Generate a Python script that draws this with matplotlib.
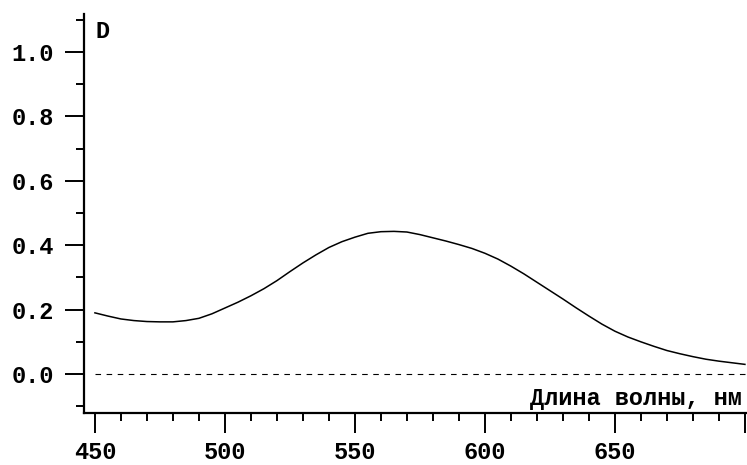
import matplotlib
matplotlib.use("Agg")
import matplotlib.pyplot as plt
from matplotlib.ticker import MultipleLocator

# spectrum, every 5 nm
wavelength = list(range(450, 701, 5))
absorbance = [0.190, 0.180, 0.171, 0.166, 0.163, 0.162, 0.162, 0.166, 0.173,
              0.187, 0.205, 0.223, 0.243, 0.265, 0.290, 0.318, 0.345, 0.370,
              0.393, 0.411, 0.425, 0.437, 0.442, 0.443, 0.441, 0.433, 0.423,
              0.413, 0.402, 0.390, 0.375, 0.357, 0.335, 0.311, 0.285, 0.259,
              0.233, 0.206, 0.180, 0.155, 0.133, 0.115, 0.100, 0.086, 0.073,
              0.063, 0.054, 0.046, 0.040, 0.035, 0.030]

x_ticks = [450, 500, 550, 600, 650, 700]
x_tick_labels = ["450", "500", "550", "600", "650", ""]
y_ticks = [0.0, 0.2, 0.4, 0.6, 0.8, 1.0]
y_label = "D"
x_label = "Длина волны, нм"

font = {"family": "Liberation Mono", "weight": "bold", "size": 17}

W, H = 747, 465
fig = plt.figure(figsize=(W / 100, H / 100), dpi=100)
ax = fig.add_axes([84 / W, (H - 413) / H, (W - 84) / W, (413 - 14) / H])

ax.plot(wavelength, absorbance, color="black", lw=1.1)
ax.axhline(0, xmin=(450 - 445.8) / (700.8 - 445.8), color="black", lw=0.8,
           dashes=(5, 5))

ax.set_xlim(445.8, 700.8)
ax.set_ylim(-0.121, 1.118)

for side in ("top", "right"):
    ax.spines[side].set_visible(False)
for side in ("left", "bottom"):
    ax.spines[side].set_linewidth(1.6)

ax.set_xticks(x_ticks)
ax.set_yticks(y_ticks)
ax.xaxis.set_minor_locator(MultipleLocator(10))
ax.yaxis.set_minor_locator(MultipleLocator(0.1))
ax.tick_params(which="major", direction="out", width=1.4)
ax.tick_params(axis="x", which="major", length=14.5, pad=6)
ax.tick_params(axis="y", which="major", length=13.5, pad=8)
ax.tick_params(which="minor", direction="out", width=1.4, length=5.5)

ax.set_xticklabels(x_tick_labels, fontdict=font)
ax.set_yticklabels(["%.1f" % v for v in y_ticks], fontdict=font)

ax.text(0.017, 0.985, y_label, transform=ax.transAxes, ha="left", va="top",
        fontdict=font)
ax.text(617.5, -0.097, x_label, ha="left", va="baseline", fontdict=font)

fig.savefig("out.png", dpi=100)
